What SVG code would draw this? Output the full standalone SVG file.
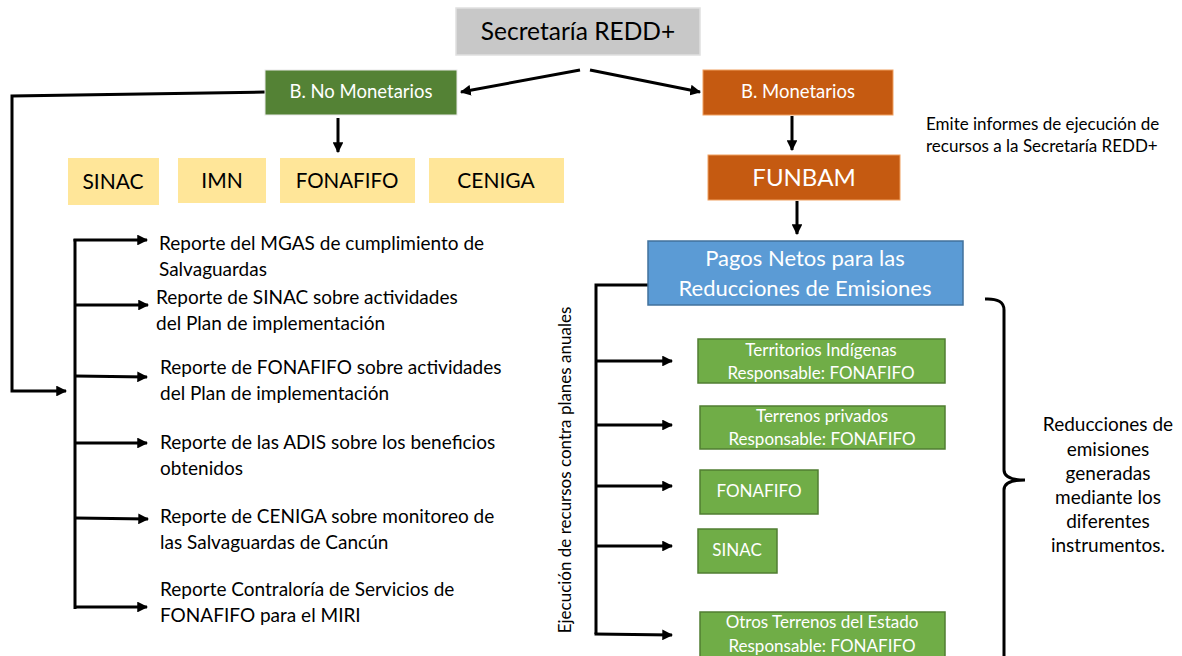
<svg xmlns="http://www.w3.org/2000/svg" width="1182" height="656" viewBox="0 0 1182 656">
<style>
text{font-family:Lato,"Open Sans","Liberation Sans",sans-serif;}
.c{stroke:#000;stroke-width:3;fill:none;}
.w{fill:#fff;text-anchor:middle;}
.k{fill:#000;}
.m{text-anchor:middle;}
.g{fill:#70ad47;stroke:#507e32;stroke-width:1.5;}
.y{fill:#ffe699;}
</style>
<defs>
<marker id="a" viewBox="0 0 10 10" refX="9" refY="5" markerWidth="3.6" markerHeight="3.6" orient="auto" markerUnits="strokeWidth">
<path d="M0,0 L10,5 L0,10 z" fill="#000"/>
</marker>
</defs>
<rect width="1182" height="656" fill="#fff"/>
<g id="connectors">
<line class="c" x1="580" y1="70" x2="461" y2="92" marker-end="url(#a)"/>
<line class="c" x1="590" y1="70" x2="700" y2="92" marker-end="url(#a)"/>
<line class="c" x1="338" y1="118" x2="338" y2="152" marker-end="url(#a)"/>
<line class="c" x1="792" y1="116" x2="792" y2="150" marker-end="url(#a)"/>
<line class="c" x1="797" y1="201" x2="797" y2="234" marker-end="url(#a)"/>
<polyline class="c" points="265,92 12,96 12,391 66,391" marker-end="url(#a)"/>
<line class="c" x1="75" y1="239" x2="75" y2="609"/>
<line class="c" x1="73.5" y1="240" x2="147" y2="240" marker-end="url(#a)"/>
<line class="c" x1="75" y1="305" x2="148" y2="305" marker-end="url(#a)"/>
<line class="c" x1="75" y1="376" x2="147" y2="377" marker-end="url(#a)"/>
<line class="c" x1="75" y1="443" x2="147" y2="443" marker-end="url(#a)"/>
<line class="c" x1="75" y1="518" x2="148" y2="519" marker-end="url(#a)"/>
<line class="c" x1="75" y1="607" x2="147" y2="607" marker-end="url(#a)"/>
<polyline class="c" points="648,285 596,285 596,634"/>
<line class="c" x1="596" y1="361" x2="672" y2="361" marker-end="url(#a)"/>
<line class="c" x1="596" y1="425" x2="672" y2="425" marker-end="url(#a)"/>
<line class="c" x1="596" y1="486" x2="672" y2="486" marker-end="url(#a)"/>
<line class="c" x1="596" y1="546" x2="672" y2="546" marker-end="url(#a)"/>
<line class="c" x1="594.5" y1="634" x2="672" y2="635" marker-end="url(#a)"/>
<path class="c" d="M985,299 Q1004,298 1004,310 L1004,470 Q1004,480 1025,480 Q1004,480 1004,490 L1004,656"/>
</g>
<g id="secretaria">
<rect x="456" y="8" width="244" height="47" fill="#c8c8c8" stroke="#e0e0e0" stroke-width="1.5"/>
<text x="578" y="40" class="m k" font-size="24.5">Secretaría REDD+</text>
</g>
<g id="no-monetarios">
<rect x="265" y="70" width="192" height="45" fill="#548235" stroke="#e8e8e8" stroke-width="1"/>
<text x="361" y="98" class="w" font-size="18.5">B. No Monetarios</text>
</g>
<g id="monetarios">
<rect x="703" y="70" width="190" height="45" fill="#c55a11" stroke="#f0a060" stroke-width="1"/>
<text x="798" y="98" class="w" font-size="18.5">B. Monetarios</text>
</g>
<g id="funbam">
<rect x="708" y="155" width="192" height="45" fill="#c55a11" stroke="#f0a060" stroke-width="1"/>
<text x="804" y="186" class="w" font-size="24">FUNBAM</text>
</g>
<g id="emite">
<text x="926" y="130" class="k" font-size="17">Emite informes de ejecución de</text>
<text x="926" y="152" class="k" font-size="17">recursos a la Secretaría REDD+</text>
</g>
<g id="sinac-y"><rect x="68" y="158" width="91" height="47" class="y"/><text x="113" y="189" class="m k" font-size="21">SINAC</text></g>
<g id="imn-y"><rect x="178" y="158" width="88" height="45" class="y"/><text x="222" y="188" class="m k" font-size="21">IMN</text></g>
<g id="fonafifo-y"><rect x="280" y="158" width="135" height="45" class="y"/><text x="347" y="188" class="m k" font-size="20.5">FONAFIFO</text></g>
<g id="ceniga-y"><rect x="429" y="158" width="135" height="45" class="y"/><text x="496" y="188" class="m k" font-size="21">CENIGA</text></g>
<g id="reportes" font-size="19">
<text x="159" y="250" class="k">Reporte del MGAS de cumplimiento de</text>
<text x="159" y="276" class="k">Salvaguardas</text>
<text x="156" y="304" class="k">Reporte de SINAC sobre actividades</text>
<text x="156" y="330" class="k">del Plan de implementación</text>
<text x="160" y="374" class="k">Reporte de FONAFIFO sobre actividades</text>
<text x="160" y="400" class="k">del Plan de implementación</text>
<text x="160" y="449" class="k">Reporte de las ADIS sobre los beneficios</text>
<text x="160" y="475" class="k">obtenidos</text>
<text x="160" y="523" class="k">Reporte de CENIGA sobre monitoreo de</text>
<text x="160" y="549" class="k">las Salvaguardas de Cancún</text>
<text x="160" y="596" class="k">Reporte Contraloría de Servicios de</text>
<text x="160" y="622" class="k">FONAFIFO para el MIRI</text>
</g>
<g id="pagos">
<rect x="648" y="241" width="315" height="64" fill="#5b9bd5" stroke="#41719c" stroke-width="1.5"/>
<text x="805" y="266" class="w" font-size="22">Pagos Netos para las</text>
<text x="805" y="296" class="w" font-size="22">Reducciones de Emisiones</text>
</g>
<g id="ejecucion">
<text transform="translate(571,470) rotate(-90)" class="m k" font-size="17">Ejecución de recursos contra planes anuales</text>
</g>
<g id="territorios">
<rect x="698" y="339" width="247" height="44" class="g"/>
<text x="821" y="356" class="w" font-size="17">Territorios Indígenas</text>
<text x="821" y="379" class="w" font-size="17">Responsable: FONAFIFO</text>
</g>
<g id="privados">
<rect x="700" y="406" width="245" height="43" class="g"/>
<text x="822" y="422" class="w" font-size="17">Terrenos privados</text>
<text x="822" y="445" class="w" font-size="17">Responsable: FONAFIFO</text>
</g>
<g id="fonafifo-g">
<rect x="700" y="470" width="118" height="44" class="g"/>
<text x="759" y="497" class="w" font-size="17">FONAFIFO</text>
</g>
<g id="sinac-g">
<rect x="698" y="529" width="79" height="44" class="g"/>
<text x="737" y="556" class="w" font-size="17">SINAC</text>
</g>
<g id="otros">
<rect x="700" y="612" width="245" height="46" class="g"/>
<text x="822" y="628" class="w" font-size="17">Otros Terrenos del Estado</text>
<text x="822" y="652" class="w" font-size="17">Responsable: FONAFIFO</text>
</g>
<g id="reducciones" font-size="19">
<text x="1108" y="431" class="m k">Reducciones de</text>
<text x="1108" y="456" class="m k">emisiones</text>
<text x="1108" y="480" class="m k">generadas</text>
<text x="1108" y="504" class="m k">mediante los</text>
<text x="1108" y="528" class="m k">diferentes</text>
<text x="1108" y="552" class="m k">instrumentos.</text>
</g>
</svg>
